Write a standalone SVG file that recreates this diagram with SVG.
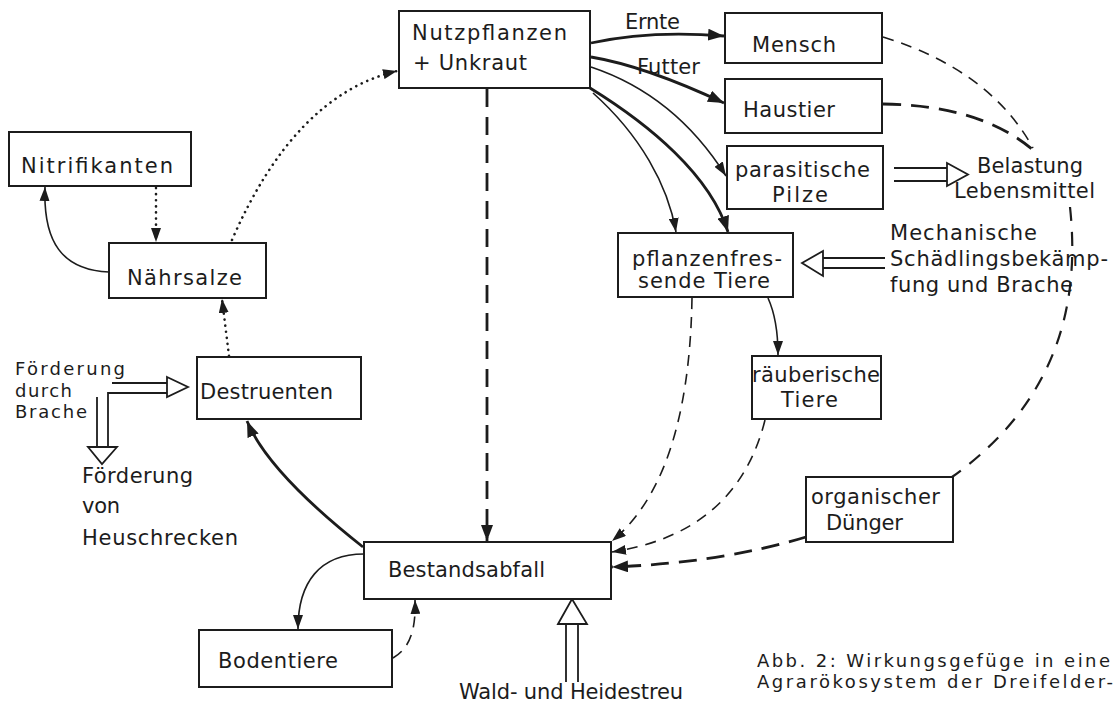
<svg xmlns="http://www.w3.org/2000/svg" width="1114" height="707" viewBox="0 0 1114 707">
<style>
.box{fill:#fff;stroke:#1c1c1c;stroke-width:2}
.t{font-family:"DejaVu Sans","Liberation Sans",sans-serif;font-size:21px;fill:#1c1c1c}
.s{font-size:18px}
.solid{fill:none;stroke:#1c1c1c;stroke-width:1.6}
.thick{fill:none;stroke:#1c1c1c;stroke-width:2.8}
.dashT{fill:none;stroke:#1c1c1c;stroke-width:2.8;stroke-dasharray:18 10}
.dash{fill:none;stroke:#1c1c1c;stroke-width:1.6;stroke-dasharray:11 8}
.dot{fill:none;stroke:#1c1c1c;stroke-width:2.6;stroke-dasharray:0.1 6;stroke-linecap:round}
.hol{fill:#fff;stroke:#1c1c1c;stroke-width:1.8;stroke-linejoin:miter}
.dl{fill:none;stroke:#1c1c1c;stroke-width:1.8}
</style>
<defs>
<marker id="ah" viewBox="0 0 14 10" refX="14" refY="5" markerWidth="14" markerHeight="10" markerUnits="userSpaceOnUse" orient="auto">
<path d="M0,0 L14,5 L0,10 z" fill="#1c1c1c"/>
</marker>
<marker id="ahb" viewBox="0 0 16 12" refX="16" refY="6" markerWidth="16" markerHeight="12" markerUnits="userSpaceOnUse" orient="auto">
<path d="M0,0 L16,6 L0,12 z" fill="#1c1c1c"/>
</marker>
</defs>
<rect width="1114" height="707" fill="#fff"/>

<g id="connectors">
<path class="thick" d="M591,43 Q650,30 724,36" marker-end="url(#ahb)"/>
<path class="thick" d="M591,57 Q645,66 724,103" marker-end="url(#ahb)"/>
<path class="solid" d="M591,67 Q675,95 726,176" marker-end="url(#ah)"/>
<path class="solid" d="M593,93 C640,135 668,185 676,232" marker-end="url(#ah)"/>
<path class="thick" d="M590,88 C650,125 710,175 728,232" marker-end="url(#ahb)"/>
<path class="dashT" d="M487,89 V541" marker-end="url(#ahb)"/>
<path class="dot" d="M232,240 Q295,95 397,71" marker-end="url(#ah)"/>
<path class="dot" d="M156,188 L156,242" marker-end="url(#ah)"/>
<path class="solid" d="M109,272 C62,270 43,242 45,187" marker-end="url(#ah)"/>
<path class="dot" d="M229,356 L222,299" marker-end="url(#ah)"/>
<path class="thick" d="M363,547 Q268,472 247,421" marker-end="url(#ahb)"/>
<path class="solid" d="M364,554 C320,554 298,582 298,629" marker-end="url(#ah)"/>
<path class="dash" d="M393,658 C410,648 416,630 415,600" marker-end="url(#ah)"/>
<path class="dash" d="M692,298 C690,420 662,500 612,541" marker-end="url(#ah)"/>
<path class="dash" d="M765,420 C745,500 690,540 612,552" marker-end="url(#ah)"/>
<path class="dashT" d="M806,537 Q720,563 612,567" marker-end="url(#ahb)"/>
<path class="solid" d="M768,298 Q778,320 778,355" marker-end="url(#ah)"/>
<path class="dash" d="M883,37 Q990,70 1033,148"/>
<path class="dashT" d="M883,104 Q980,105 1033,150"/>
<path class="dashT" style="stroke-width:2.2;stroke-dasharray:14 11" d="M1070,207 C1080,300 1060,400 952,477"/>
<path class="dl" d="M894,168 H947 M894,181 H947"/>
<path class="hol" d="M947,163 L968,174.5 L947,186 Z"/>
<path class="dl" d="M885,258 H823 M885,268 H823"/>
<path class="hol" d="M823,251 L802,263 L823,276 Z"/>
<path class="dl" d="M566,682 V624 M578,682 V624"/>
<path class="hol" d="M558,624 L572,599 L587,624 Z"/>
<path class="dl" d="M112,383 H167 M108,447 V393 H167 M97,397 V447"/>
<path class="hol" d="M167,377 L188,387 L167,397 Z"/>
<path class="hol" d="M88,447 L117,447 L102,464 Z"/>
</g>

<g id="n_nutzpflanzen">
<rect class="box" x="399" y="11" width="191" height="77"/>
<text class="t" x="412" y="40" textLength="155">Nutzpflanzen</text>
<text class="t" x="413" y="70" textLength="114">+ Unkraut</text>
</g>
<g id="n_mensch">
<rect class="box" x="725" y="13" width="157" height="50"/>
<text class="t" x="752" y="52" textLength="84">Mensch</text>
</g>
<g id="n_haustier">
<rect class="box" x="725" y="79" width="157" height="54"/>
<text class="t" x="743" y="117" textLength="92">Haustier</text>
</g>
<g id="n_pilze">
<rect class="box" x="727" y="146" width="156" height="63"/>
<text class="t" x="735" y="177" textLength="135">parasitische</text>
<text class="t" x="772" y="202" textLength="56">Pilze</text>
</g>
<g id="n_pflanzenfresser">
<rect class="box" x="618" y="233" width="175" height="64"/>
<text class="t" x="632" y="266" textLength="150">pflanzenfres-</text>
<text class="t" x="638" y="288" textLength="132">sende Tiere</text>
</g>
<g id="n_raeuber">
<rect class="box" x="752" y="356" width="129" height="63"/>
<text class="t" x="752" y="382" textLength="128">räuberische</text>
<text class="t" x="781" y="407" textLength="57">Tiere</text>
</g>
<g id="n_duenger">
<rect class="box" x="806" y="477" width="147" height="65"/>
<text class="t" x="811" y="504" textLength="129">organischer</text>
<text class="t" x="826" y="530" textLength="77">Dünger</text>
</g>
<g id="n_bestand">
<rect class="box" x="364" y="542" width="247" height="57"/>
<text class="t" x="388" y="577" textLength="157">Bestandsabfall</text>
</g>
<g id="n_boden">
<rect class="box" x="199" y="630" width="193" height="57"/>
<text class="t" x="218" y="668" textLength="120">Bodentiere</text>
</g>
<g id="n_destruenten">
<rect class="box" x="197" y="357" width="164" height="62"/>
<text class="t" x="200" y="399" textLength="133">Destruenten</text>
</g>
<g id="n_naehrsalze">
<rect class="box" x="109" y="243" width="157" height="55"/>
<text class="t" x="127" y="285" textLength="115">Nährsalze</text>
</g>
<g id="n_nitri">
<rect class="box" x="9" y="132" width="182" height="54"/>
<text class="t" x="21" y="173" textLength="152">Nitrifikanten</text>
</g>

<g id="labels">
<text class="t" x="625" y="29" textLength="55">Ernte</text>
<text class="t" x="637" y="74" textLength="63">Futter</text>
<text class="t" x="977" y="173" textLength="106">Belastung</text>
<text class="t" x="954" y="198" textLength="141">Lebensmittel</text>
<text class="t" x="890" y="240" textLength="147">Mechanische</text>
<text class="t" x="890" y="266" textLength="218">Schädlingsbekämp-</text>
<text class="t" x="890" y="292" textLength="183">fung und Brache</text>
<text class="t s" x="15" y="375" textLength="110">Förderung</text>
<text class="t s" x="15" y="397" textLength="57">durch</text>
<text class="t s" x="15" y="418" textLength="72">Brache</text>
<text class="t" x="82" y="483" textLength="111">Förderung</text>
<text class="t" x="82" y="513" textLength="38">von</text>
<text class="t" x="82" y="545" textLength="156">Heuschrecken</text>
<text class="t" x="459" y="699" textLength="224">Wald- und Heidestreu</text>
<text class="t s" x="757" y="667" textLength="353">Abb. 2: Wirkungsgefüge in eine</text>
<text class="t s" x="757" y="688" textLength="356">Agrarökosystem der Dreifelder-</text>
</g>
</svg>
